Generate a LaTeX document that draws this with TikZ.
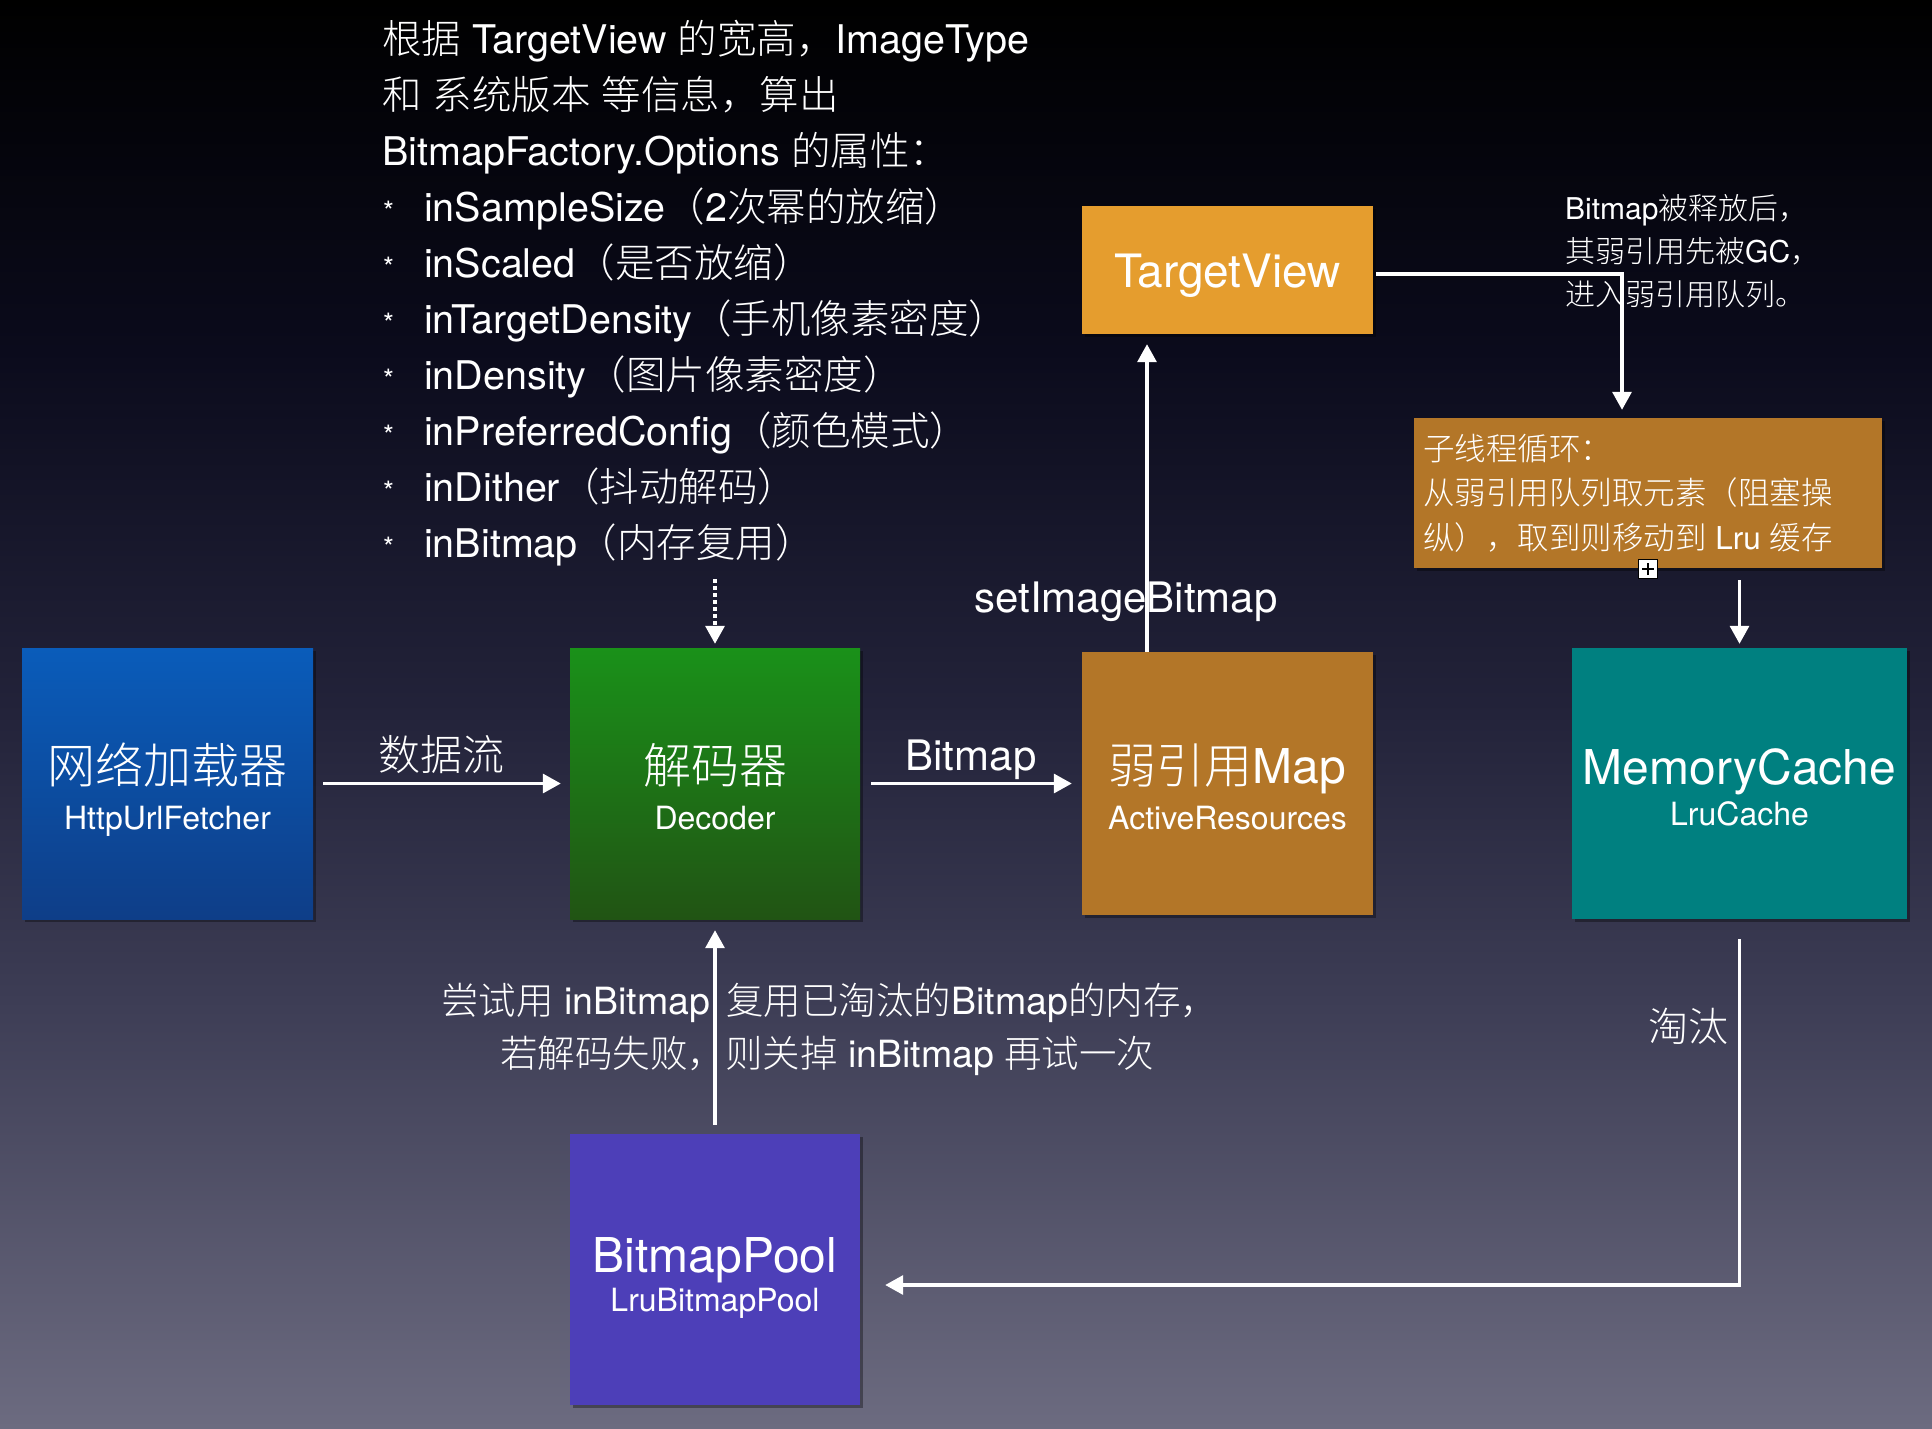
\documentclass[tikz,border=0pt]{standalone}
\usepackage{fontspec}
\setmainfont{TeX Gyre Heros}
\newfontfamily\latinfont{TeX Gyre Heros}
\IfFontExistsTF{Noto Sans CJK SC Light}
  {\newfontfamily\cjkfont{Noto Sans CJK SC Light}}
  {\IfFontExistsTF{Noto Sans CJK SC DemiLight}
     {\newfontfamily\cjkfont{Noto Sans CJK SC DemiLight}}
     {\newfontfamily\cjkfont{Noto Sans CJK SC}}}
\usetikzlibrary{arrows.meta,shadows}
% --- switch to the CJK font for CJK characters ---
\chardef\cjkcls=50
\count255="3000
\loop\ifnum\count255<"3040 \XeTeXcharclass\count255=\cjkcls \advance\count255 by 1 \repeat
\count255="4E00
\loop\ifnum\count255<"A000 \XeTeXcharclass\count255=\cjkcls \advance\count255 by 1 \repeat
\count255="FF00
\loop\ifnum\count255<"FFF0 \XeTeXcharclass\count255=\cjkcls \advance\count255 by 1 \repeat
\XeTeXinterchartokenstate=1
\XeTeXinterchartoks 0 \cjkcls = {\cjkfont}
\XeTeXinterchartoks 4095 \cjkcls = {\cjkfont}
\XeTeXinterchartoks \cjkcls 0 = {\latinfont}
\XeTeXinterchartoks \cjkcls 4095 = {\latinfont}

\definecolor{bgE}{HTML}{000000}
\definecolor{bgD}{HTML}{0B0B1C}
\definecolor{bgC}{HTML}{23233A}
\definecolor{bgB}{HTML}{3D3D55}
\definecolor{bgA}{HTML}{6C6B80}
\definecolor{blueT}{HTML}{0A5CBA}
\definecolor{blueB}{HTML}{0E3E88}
\definecolor{greenT}{HTML}{1A9119}
\definecolor{greenB}{HTML}{215414}
\definecolor{ochre}{HTML}{B37628}
\definecolor{tvorange}{HTML}{E59D2E}
\definecolor{teal2}{HTML}{008080}
\definecolor{purple2}{HTML}{4D3FB8}

\tikzset{
  box/.style={draw=none, inner sep=0pt,
    drop shadow={shadow xshift=3pt, shadow yshift=-3pt, opacity=0.35, fill=black}},
  txt/.style={text=white, inner sep=0pt},
  arr/.style={draw=white, line width=3.3pt, -{Triangle[length=18pt,width=19pt]}},
  title/.style={txt, anchor=base, font=\fontsize{48}{52}\selectfont},
  subt/.style={txt, anchor=base, font=\fontsize{32}{36}\selectfont},
  toptext/.style={txt, anchor=base west, font=\fontsize{39.5}{42}\selectfont},
  star/.style={txt, anchor=base west, font=\fontsize{28}{30}\selectfont},
  lbl/.style={txt, font=\fontsize{42}{46}\selectfont},
  note/.style={txt, anchor=base west, font=\fontsize{30}{34}\selectfont},
  subnote/.style={txt, anchor=base west, font=\fontsize{31.5}{35}\selectfont},
  cmt/.style={txt, anchor=base west, font=\fontsize{37.5}{41}\selectfont},
}

\begin{document}
\begin{tikzpicture}[x=1pt,y=-1pt]
\useasboundingbox (0,0) rectangle (1932,1428);
% background
\shade[top color=bgE, bottom color=bgD] (0,0) rectangle (1932,351);
\shade[top color=bgD, bottom color=bgC] (0,350) rectangle (1932,715);
\shade[top color=bgC, bottom color=bgB] (0,714) rectangle (1932,1001);
\shade[top color=bgB, bottom color=bgA] (0,1000) rectangle (1932,1428);

% boxes
\node[box, minimum width=291pt, minimum height=271pt, top color=blueT, bottom color=blueB] (net) at (167.5,783.5) {};
\node[box, minimum width=290pt, minimum height=271pt, top color=greenT, bottom color=greenB] (dec) at (715,783.5) {};
\node[box, minimum width=291pt, minimum height=263pt, fill=ochre] (weak) at (1227.5,783.5) {};
\node[box, minimum width=335pt, minimum height=271pt, fill=teal2] (mc) at (1739.5,783.5) {};
\node[box, minimum width=291pt, minimum height=128pt, fill=tvorange] (tv) at (1227.5,270) {};
\node[box, minimum width=468pt, minimum height=150pt, fill=ochre] (sub) at (1648,493) {};
\node[box, minimum width=290pt, minimum height=271pt, fill=purple2] (pool) at (715,1269.5) {};

% box texts
\node[title] (netT) at (167.5,783) {网络加载器};
\node[subt] (netS) at (167.5,829) {HttpUrlFetcher};
\node[title] (decT) at (715,783) {解码器};
\node[subt] (decS) at (715,829) {Decoder};
\node[title] (weakT) at (1227.5,783) {弱引用Map};
\node[subt] (weakS) at (1227.5,829) {ActiveResources};
\node[title] (mcT) at (1739.5,784) {MemoryCache};
\node[subt] (mcS) at (1739.5,825) {LruCache};
\node[txt, anchor=base, font=\fontsize{46}{50}\selectfont] (tvT) at (1227.5,287) {TargetView};
\node[title] (poolT) at (715,1272) {BitmapPool};
\node[subt] (poolS) at (715,1311) {LruBitmapPool};
\node[subnote] (sub1) at (1423,460) {子线程循环：};
\node[subnote] (sub2) at (1423,504) {从弱引用队列取元素（阻塞操};
\node[subnote] (sub3) at (1423,549) {纵），取到则移动到 Lru 缓存};

% top explanation text
\node[toptext] (t1) at (382,53) {根据 TargetView 的宽高，ImageType};
\node[toptext] (t2) at (382,109) {和 系统版本 等信息，算出};
\node[toptext] (t3) at (382,165) {BitmapFactory.Options 的属性：};
\node[star] (s1) at (383,221) {*};
\node[star] (s2) at (383,277) {*};
\node[star] (s3) at (383,333) {*};
\node[star] (s4) at (383,389) {*};
\node[star] (s5) at (383,445) {*};
\node[star] (s6) at (383,501) {*};
\node[star] (s7) at (383,557) {*};
\node[toptext] (b1) at (424,221) {inSampleSize（2次幂的放缩）};
\node[toptext] (b2) at (424,277) {inScaled（是否放缩）};
\node[toptext] (b3) at (424,333) {inTargetDensity（手机像素密度）};
\node[toptext] (b4) at (424,389) {inDensity（图片像素密度）};
\node[toptext] (b5) at (424,445) {inPreferredConfig（颜色模式）};
\node[toptext] (b6) at (424,501) {inDither（抖动解码）};
\node[toptext] (b7) at (424,557) {inBitmap（内存复用）};

% notes
\node[note] (n1) at (1565,219) {Bitmap被释放后，};
\node[note] (n2) at (1565,262) {其弱引用先被GC，};
\node[note] (n3) at (1565,305) {进入弱引用队列。};

% connectors
\coordinate (dotstart) at (715,579);
\draw[arr, dash pattern=on 4pt off 3pt, shorten >=4pt] (dotstart) -- (dec.north);
\draw[arr, shorten <=10pt, shorten >=9pt] (net.east) -- (dec.west);
\draw[arr, shorten <=11pt, shorten >=10pt] (dec.east) -- (weak.west);
\draw[arr, shorten >=10pt] ([xshift=-80.5pt]weak.north) -- ([xshift=-80.5pt]tv.south);
\draw[arr, shorten <=3pt, shorten >=8pt] ([yshift=-4pt]tv.east) -| ([xshift=-26pt]sub.north);
\draw[arr, shorten <=12pt, shorten >=4pt] (sub.south -| mc.north) -- (mc.north);
\draw[arr, shorten <=20pt, shorten >=25pt] (mc.south) |- ([yshift=-15.5pt]pool.east);
\draw[arr, shorten <=9pt, shorten >=11pt] (pool.north) -- (dec.south);

% labels
\node[lbl, anchor=base] (l1) at (441,770) {数据流};
\node[lbl, anchor=base] (l2) at (971,770) {Bitmap};
\node[lbl, anchor=base] (l3) at (1126,612) {setImageBitmap};
\node[txt, anchor=base east, font=\fontsize{40}{44}\selectfont] (l4) at (1729,1041) {淘汰};
\node[cmt] (c1) at (441,1014) {尝试用 inBitmap\hspace{6pt} 复用已淘汰的Bitmap的内存，};
\node[cmt] (c2) at (500,1067) {若解码失败，则关掉 inBitmap 再试一次};

% small marker icon
\node[draw=black, fill=white, line width=1.5pt, minimum size=19pt, inner sep=0pt] (plusicon) at (1648,569) {};
\draw[black, line width=2pt] ([xshift=-6pt]plusicon.center) -- ([xshift=6pt]plusicon.center);
\draw[black, line width=2pt] ([yshift=-6pt]plusicon.center) -- ([yshift=6pt]plusicon.center);
\end{tikzpicture}
\end{document}
